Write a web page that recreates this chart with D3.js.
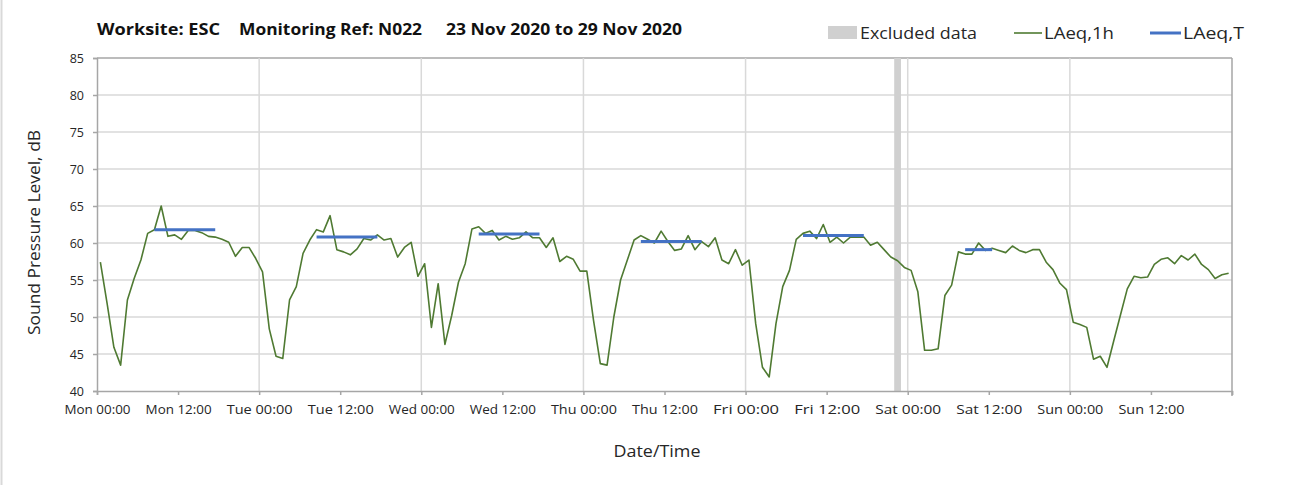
<!DOCTYPE html>
<html>
<head>
<meta charset="utf-8">
<script src="https://cdn.jsdelivr.net/npm/d3@7"></script>
<style>
  body { margin: 0; background: #fff; }
  svg text { font-family: "Open Sans", "Noto Sans", sans-serif; }
</style>
</head>
<body>
<div id="chart"></div>
<script>
// Hourly LAeq,1h values, one array per day (value plotted at the middle of each hour)
const mon = [57.4, 51.8, 45.9, 43.5, 52.3, 55.2, 57.7, 61.3, 61.8, 65.0, 60.9, 61.1, 60.5, 61.7, 61.7, 61.4, 60.9, 60.8, 60.5, 60.1, 58.2, 59.4, 59.4, 57.9];
const tue = [56.1, 48.4, 44.7, 44.4, 52.3, 54.1, 58.6, 60.4, 61.8, 61.5, 63.7, 59.1, 58.8, 58.4, 59.2, 60.6, 60.4, 61.1, 60.4, 60.6, 58.1, 59.4, 60.1, 55.5];
const wed = [57.2, 48.6, 54.5, 46.3, 50.2, 54.7, 57.2, 61.9, 62.2, 61.3, 61.7, 60.4, 60.9, 60.5, 60.7, 61.5, 60.7, 60.7, 59.4, 60.7, 57.5, 58.2, 57.8, 56.2];
const thu = [56.2, 49.5, 43.7, 43.5, 50.0, 55.0, 57.7, 60.4, 61.0, 60.5, 60.0, 61.6, 60.2, 59.0, 59.2, 61.0, 59.1, 60.2, 59.5, 60.7, 57.7, 57.2, 59.1, 57.0];
const fri = [57.7, 49.1, 43.2, 41.9, 49.1, 54.1, 56.3, 60.5, 61.3, 61.6, 60.6, 62.5, 60.1, 60.8, 60.0, 60.8, 60.8, 60.8, 59.7, 60.1, 59.1, 58.1, 57.6, 56.7];
const sat = [56.3, 53.4, 45.5, 45.5, 45.7, 52.9, 54.3, 58.8, 58.5, 58.5, 60.0, 59.0, 59.3, 59.0, 58.7, 59.6, 59.0, 58.7, 59.1, 59.1, 57.4, 56.4, 54.6, 53.7];
const sun = [49.3, 49.0, 48.6, 44.3, 44.7, 43.2, 46.8, 50.3, 53.8, 55.5, 55.3, 55.4, 57.1, 57.8, 58.0, 57.2, 58.3, 57.7, 58.5, 57.1, 56.4, 55.2, 55.7, 55.9];

const dayNames = ["Mon", "Tue", "Wed", "Thu", "Fri", "Sat", "Sun"];

// LAeq,T periods: day index, first hour, end hour, level
const periodDay   = [0, 1, 2, 3, 4, 5];
const periodStart = [8, 8, 8, 8, 8, 8];
const periodEnd   = [18, 18, 18, 18, 18, 13];
const periodLevel = [61.8, 60.8, 61.2, 60.2, 61.0, 59.1];

// Excluded data (hours from Mon 00:00)
const excludedStart = [118];
const excludedEnd   = [119];

const yTicks = [40, 45, 50, 55, 60, 65, 70, 75, 80, 85];

const width = 1293,
      height = 485,
      margin = {top: 58, right: 61, bottom: 94, left: 97};

const green = "#4f7a32",
      blue = "#4472c4",
      gridColor = "#d9d9d9",
      axisColor = "#a6a6a6",
      textColor = "#262626";

const svg = d3.select("#chart").append("svg")
  .attr("width", width)
  .attr("height", height);

// Left border of the chart area
svg.append("line")
  .attr("x1", 1.5).attr("x2", 1.5)
  .attr("y1", 0).attr("y2", height)
  .attr("stroke", "#d9d9d9").attr("stroke-width", 2);

const x = d3.scaleLinear()
  .domain([0, 168])
  .range([margin.left, width - margin.right]);

const y = d3.scaleLinear()
  .domain([40, 85])
  .range([height - margin.bottom, margin.top]);

// Flatten the days into one hourly series
const hourly = [mon, tue, wed, thu, fri, sat, sun]
  .flatMap((day, d) => day.map((v, h) => ({hour: d * 24 + h, value: v})));

const periods = periodDay.map((d, i) => ({
  from: d * 24 + periodStart[i],
  to: d * 24 + periodEnd[i] - 1,
  level: periodLevel[i]
}));

// Horizontal gridlines
svg.append("g")
  .selectAll("line")
  .data(yTicks.filter(t => t > 40))
  .join("line")
  .attr("x1", x(0)).attr("x2", x(168))
  .attr("y1", d => y(d)).attr("y2", d => y(d))
  .attr("stroke", d => d === 85 ? axisColor : gridColor)
  .attr("stroke-width", 1.5);

// Vertical gridlines at midnight
svg.append("g")
  .selectAll("line")
  .data(d3.range(24, 168, 24))
  .join("line")
  .attr("x1", d => x(d)).attr("x2", d => x(d))
  .attr("y1", y(85)).attr("y2", y(40))
  .attr("stroke", gridColor)
  .attr("stroke-width", 1.5);

// Excluded data band
svg.append("g")
  .selectAll("rect")
  .data(excludedStart.map((s, i) => [s, excludedEnd[i]]))
  .join("rect")
  .attr("x", d => x(d[0]))
  .attr("width", d => x(d[1]) - x(d[0]))
  .attr("y", y(85))
  .attr("height", y(40) - y(85))
  .attr("fill", "#d0d0d0");

// Right border
svg.append("line")
  .attr("x1", x(168)).attr("x2", x(168))
  .attr("y1", y(85)).attr("y2", y(40) + 5)
  .attr("stroke", axisColor).attr("stroke-width", 1.5);

// Y axis
const yAxis = svg.append("g")
  .attr("transform", `translate(${x(0)},0)`)
  .call(d3.axisLeft(y).tickValues(yTicks).tickSize(4).tickPadding(9));
yAxis.select(".domain").attr("stroke", axisColor).attr("stroke-width", 1.5);
yAxis.selectAll(".tick line").attr("stroke", axisColor).attr("stroke-width", 1.5);
yAxis.selectAll(".tick text")
  .attr("fill", textColor)
  .style("font-size", "12.5px");

// X axis, tick every 12 hours
const xAxis = svg.append("g")
  .attr("transform", `translate(0,${y(40)})`)
  .call(d3.axisBottom(x)
    .tickValues(d3.range(0, 169, 12))
    .tickSize(4)
    .tickPadding(10)
    .tickFormat(d => d >= 168 ? "" : dayNames[Math.floor(d / 24)] + (d % 24 === 0 ? " 00:00" : " 12:00")));
xAxis.select(".domain").attr("stroke", axisColor).attr("stroke-width", 1.5);
xAxis.selectAll(".tick line").attr("stroke", axisColor).attr("stroke-width", 1.5);
xAxis.selectAll(".tick text")
  .attr("fill", textColor)
  .style("font-size", "13px")
  .filter(d => d < 168)
  .attr("textLength", 66)
  .attr("lengthAdjust", "spacingAndGlyphs");

// LAeq,1h line
const line = d3.line()
  .x(d => x(d.hour + 0.5))
  .y(d => y(d.value));

svg.append("path")
  .datum(hourly)
  .attr("fill", "none")
  .attr("stroke", green)
  .attr("stroke-width", 1.6)
  .attr("stroke-linejoin", "round")
  .attr("d", line);

// LAeq,T segments
svg.append("g")
  .selectAll("line")
  .data(periods)
  .join("line")
  .attr("x1", d => x(d.from + 0.5))
  .attr("x2", d => x(d.to + 0.5))
  .attr("y1", d => y(d.level))
  .attr("y2", d => y(d.level))
  .attr("stroke", blue)
  .attr("stroke-width", 3);

// Small helper: text stretched to the width seen in the original
function fitText(g, tx, ty, str, len) {
  return g.append("text")
    .attr("x", tx).attr("y", ty)
    .attr("textLength", len)
    .attr("lengthAdjust", "spacingAndGlyphs")
    .text(str);
}

// Title
const title = svg.append("g")
  .attr("fill", "#111")
  .style("font-size", "16.5px")
  .style("font-weight", "bold");
fitText(title, 97, 35, "Worksite: ESC", 123);
fitText(title, 239, 35, "Monitoring Ref: N022", 183);
fitText(title, 446, 35, "23 Nov 2020 to 29 Nov 2020", 236);

// Legend
const legend = svg.append("g")
  .attr("fill", textColor)
  .style("font-size", "17px");
legend.append("rect")
  .attr("x", 828).attr("y", 26).attr("width", 29).attr("height", 13)
  .attr("fill", "#d0d0d0");
fitText(legend, 860, 39, "Excluded data", 117);
legend.append("line")
  .attr("x1", 1014).attr("x2", 1042).attr("y1", 33).attr("y2", 33)
  .attr("stroke", green).attr("stroke-width", 1.6);
fitText(legend, 1044, 39, "LAeq,1h", 70);
legend.append("line")
  .attr("x1", 1150).attr("x2", 1181).attr("y1", 33).attr("y2", 33)
  .attr("stroke", blue).attr("stroke-width", 3);
fitText(legend, 1183, 39, "LAeq,T", 61);

// Axis titles
svg.append("text")
  .attr("transform", `translate(40,${(y(85) + y(40)) / 2 + 8}) rotate(-90)`)
  .attr("text-anchor", "middle")
  .attr("fill", textColor)
  .style("font-size", "16.5px")
  .attr("textLength", 205)
  .attr("lengthAdjust", "spacingAndGlyphs")
  .text("Sound Pressure Level, dB");

svg.append("text")
  .attr("x", 657)
  .attr("y", 457)
  .attr("text-anchor", "middle")
  .attr("fill", textColor)
  .style("font-size", "17px")
  .attr("textLength", 87)
  .attr("lengthAdjust", "spacingAndGlyphs")
  .text("Date/Time");
</script>
</body>
</html>
